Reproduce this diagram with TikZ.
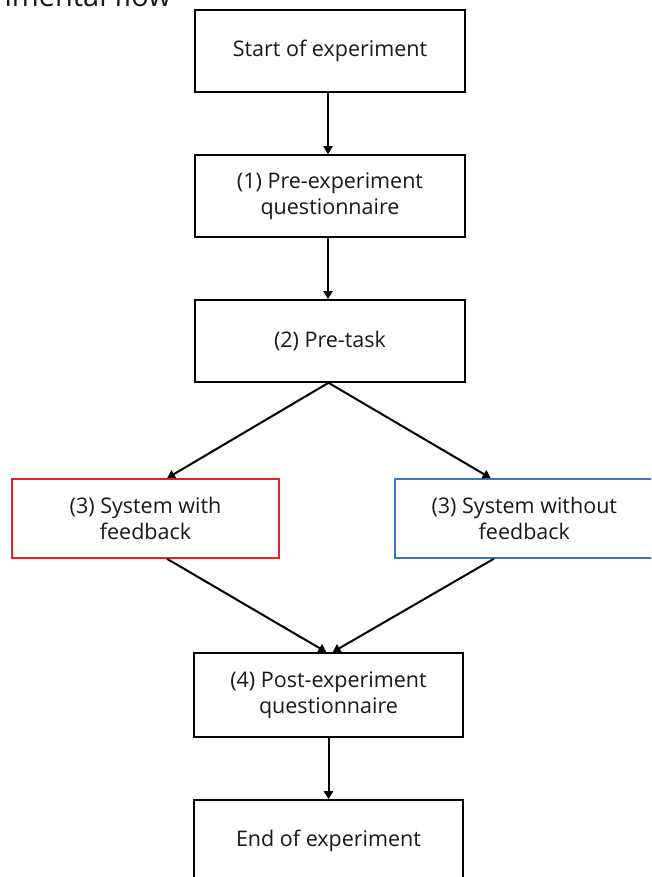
\documentclass[tikz,border=0pt]{standalone}
\usepackage{fontspec}
\setmainfont{Open Sans}
\usetikzlibrary{arrows.meta,calc}
\definecolor{boxred}{RGB}{230,32,40}
\definecolor{boxblue}{RGB}{68,114,196}
\begin{document}
\begin{tikzpicture}[x=1pt,y=-1pt,
  box/.style={draw=black,line width=1.6pt,rectangle,inner sep=0pt,align=center,
    font=\fontsize{21.5}{25.5}\selectfont,text=black!90},
  conn/.style={line width=2pt,-{Triangle[length=8pt,width=9pt]}}]
\useasboundingbox (0,0) rectangle (651,877);
\clip (0,0) rectangle (651,877);
\fill[white] (0,0) rectangle (651,877);
\node[anchor=base east,font=\fontsize{29}{34}\selectfont,text=black!90,inner sep=0pt] (title) at (171,7) {Experimental flow};
\node[box,minimum width=270pt,minimum height=82pt] (start) at (330,51) {Start of experiment};
\node[box,minimum width=270pt,minimum height=82pt] (pre) at (330,196) {(1) Pre-experiment\\questionnaire};
\node[box,minimum width=270pt,minimum height=82pt] (task) at (330,341) {(2) Pre-task};
\node[box,draw=boxred,minimum width=267pt,minimum height=79pt] (left) at (145.5,518.5) {(3) System with\\feedback};
\node[box,draw=boxblue,minimum width=267pt,minimum height=79pt,anchor=west] (right) at (394,518.5) {\hspace*{-8pt}(3) System without\\\hspace*{-8pt}feedback};
\node[box,minimum width=269pt,minimum height=84pt] (post) at (328.5,695) {(4) Post-experiment\\questionnaire};
\node[box,minimum width=269pt,minimum height=82pt] (end) at (328.5,841) {End of experiment};
\draw[conn] ([xshift=-2pt]start.south) -- ([xshift=-2pt]pre.north);
\draw[conn] ([xshift=-2pt]pre.south) -- ([xshift=-2pt]task.north);
\draw[conn] ([xshift=-1.5pt]task.south) -- ([xshift=21.5pt]left.north);
\draw[conn] ([xshift=-1.5pt]task.south) -- ([xshift=-37.5pt]right.north);
\draw[conn] ([xshift=21.5pt]left.south) -- ([xshift=-2pt]post.north);
\draw[conn] ([xshift=-34.5pt]right.south) -- ([xshift=4pt]post.north);
\draw[conn] (post.south) -- (end.north);
\end{tikzpicture}
\end{document}
